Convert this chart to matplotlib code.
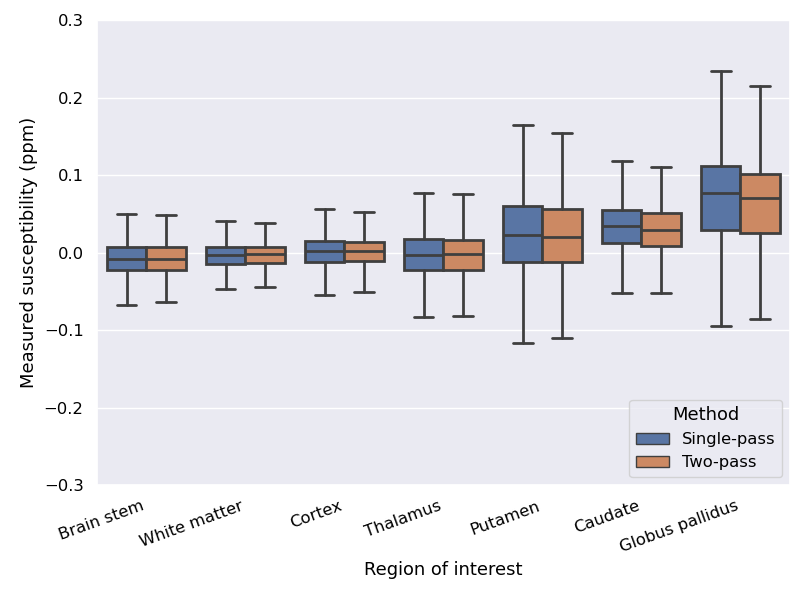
import matplotlib
matplotlib.use("Agg")
import matplotlib.pyplot as plt
import seaborn as sns
import numpy as np
from matplotlib.patches import Patch

regions = ["Brain stem", "White matter", "Cortex", "Thalamus",
           "Putamen", "Caudate", "Globus pallidus"]
methods = ["Single-pass", "Two-pass"]

# whisker low, Q1, median, Q3, whisker high (ppm)
single_lo = [-0.067, -0.047, -0.054, -0.083, -0.117, -0.052, -0.094]
single_q1 = [-0.022, -0.014, -0.012, -0.022, -0.012, 0.012, 0.029]
single_med = [-0.008, -0.003, 0.002, -0.003, 0.023, 0.034, 0.077]
single_q3 = [0.007, 0.008, 0.015, 0.018, 0.060, 0.055, 0.112]
single_hi = [0.050, 0.041, 0.056, 0.077, 0.165, 0.118, 0.235]

two_lo = [-0.064, -0.044, -0.050, -0.081, -0.110, -0.052, -0.086]
two_q1 = [-0.022, -0.013, -0.011, -0.022, -0.012, 0.009, 0.026]
two_med = [-0.008, -0.002, 0.002, -0.002, 0.021, 0.030, 0.071]
two_q3 = [0.007, 0.007, 0.014, 0.017, 0.056, 0.051, 0.102]
two_hi = [0.049, 0.039, 0.052, 0.076, 0.155, 0.111, 0.215]

sns.set_theme(style="darkgrid", font_scale=1.07)
plt.rcParams['text.color'] = 'black'
plt.rcParams['axes.labelcolor'] = 'black'
plt.rcParams['xtick.color'] = 'black'
plt.rcParams['ytick.color'] = 'black'

colors = ["#5975a4", "#cc8963"]
edge = "#3f3f3f"
lw = 2.0

fig, ax = plt.subplots(figsize=(8, 5.99), dpi=100)

series = [(single_lo, single_q1, single_med, single_q3, single_hi),
          (two_lo, two_q1, two_med, two_q3, two_hi)]
x = np.arange(len(regions))
for k, (lo, q1, med, q3, hi) in enumerate(series):
    stats = []
    for i in range(len(regions)):
        stats.append(dict(whislo=lo[i], q1=q1[i], med=med[i],
                          q3=q3[i], whishi=hi[i], fliers=[]))
    ax.bxp(stats, positions=x - 0.2 + 0.4 * k, widths=0.4,
           patch_artist=True, showfliers=False, manage_ticks=False,
           boxprops=dict(facecolor=colors[k], edgecolor=edge, linewidth=lw),
           medianprops=dict(color=edge, linewidth=lw),
           whiskerprops=dict(color=edge, linewidth=lw),
           capprops=dict(color=edge, linewidth=lw))

ax.set_xlim(-0.5, len(regions) - 0.5)
ax.set_ylim(-0.3, 0.3)
ax.set_xticks(x)
ax.set_xticklabels(regions, rotation=20, ha="right")
ax.xaxis.grid(False)
ax.set_xlabel("Region of interest")
ax.set_ylabel("Measured susceptibility (ppm)")

handles = [Patch(facecolor=colors[k], edgecolor=edge, label=m)
           for k, m in enumerate(methods)]
ax.legend(handles=handles, title="Method", loc="lower right")

fig.subplots_adjust(left=0.121, right=0.9875, top=0.966, bottom=0.19)
fig.savefig("out.png", dpi=100)
